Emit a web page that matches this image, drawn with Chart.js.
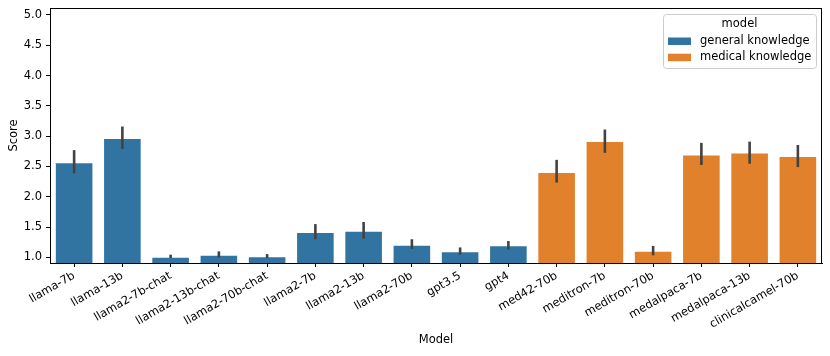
<!DOCTYPE html>
<html><head><meta charset="utf-8">
<script src="https://cdn.jsdelivr.net/npm/chart.js@4.4.1/dist/chart.umd.min.js"></script>
<style>html,body{margin:0;padding:0;background:#fff}#wrap{width:830px;height:356px;position:relative}</style>
</head><body><div id="wrap"><canvas id="c" width="830" height="356"></canvas></div>
<script>
const categories = ['llama-7b','llama-13b','llama2-7b-chat','llama2-13b-chat','llama2-70b-chat','llama2-7b','llama2-13b','llama2-70b','gpt3.5','gpt4','med42-70b','meditron-7b','meditron-70b','medalpaca-7b','medalpaca-13b','clinicalcamel-70b'];
const generalScores = [2.57, 2.97, 1.01, 1.045, 1.02, 1.42, 1.44, 1.21, 1.10, 1.20, null, null, null, null, null, null];
const medicalScores = [null, null, null, null, null, null, null, null, null, null, 2.41, 2.92, 1.11, 2.70, 2.73, 2.675];
const errLow  = [2.385, 2.79, 0.99, 1.0, 0.99, 1.30, 1.31, 1.14, 1.045, 1.13, 2.235, 2.725, 1.035, 2.525, 2.545, 2.49];
const errHigh = [2.77, 3.16, 1.045, 1.10, 1.055, 1.55, 1.585, 1.30, 1.165, 1.27, 2.61, 3.11, 1.19, 2.89, 2.91, 2.855];
const yTicks = [1.0, 1.5, 2.0, 2.5, 3.0, 3.5, 4.0, 4.5, 5.0];
const seriesNames = ['general knowledge', 'medical knowledge'];
const legendTitle = 'model';
const xTitle = 'Model';
const yTitle = 'Score';

const FONT = 'DejaVu Sans';
const FS = 11.5;
const colors = ['#3274a1', '#e1812c'];
const edgeColors = ['rgba(255,255,255,0.35)', 'rgba(255,255,255,0.35)'];

const errorBars = {
  id: 'errorBars',
  afterDatasetsDraw(chart) {
    const {ctx, scales: {x, y}} = chart;
    ctx.save();
    ctx.strokeStyle = '#424242';
    ctx.lineWidth = 2.6;
    ctx.lineCap = 'butt';
    categories.forEach((c, i) => {
      const px = x.getPixelForValue(i);
      ctx.beginPath();
      ctx.moveTo(px, y.getPixelForValue(errLow[i]));
      ctx.lineTo(px, y.getPixelForValue(errHigh[i]));
      ctx.stroke();
    });
    ctx.restore();
  }
};

const frame = {
  id: 'frame',
  afterDraw(chart) {
    const {ctx, chartArea: a} = chart;
    ctx.save();
    ctx.strokeStyle = '#000';
    ctx.lineWidth = 1;
    ctx.strokeRect(Math.round(a.left) + 0.5, Math.round(a.top) + 0.5, Math.round(a.right - a.left) - 1, Math.round(a.bottom - a.top));
    ctx.restore();
  }
};

const boxLegend = {
  id: 'boxLegend',
  afterDraw(chart) {
    const {ctx, chartArea: a} = chart;
    const w = 153, h = 54;
    const x0 = a.right - 6 - w, y0 = a.top + 6;
    ctx.save();
    ctx.beginPath();
    ctx.roundRect(x0 + 0.5, y0 + 0.5, w, h, 3);
    ctx.fillStyle = 'rgba(255,255,255,0.8)';
    ctx.fill();
    ctx.strokeStyle = '#cccccc';
    ctx.lineWidth = 1;
    ctx.stroke();
    ctx.font = FS + 'px "' + FONT + '"';
    ctx.fillStyle = '#000';
    ctx.textBaseline = 'middle';
    ctx.textAlign = 'center';
    ctx.fillText(legendTitle, x0 + w / 2, y0 + 10);
    ctx.textAlign = 'left';
    seriesNames.forEach((name, i) => {
      const cy = y0 + 27 + i * 16.2;
      ctx.fillStyle = colors[i];
      ctx.fillRect(x0 + 5, cy - 3.5, 23, 7.5);
      ctx.fillStyle = '#000';
      ctx.fillText(name, x0 + 37, cy);
    });
    ctx.restore();
  }
};

new Chart(document.getElementById('c'), {
  type: 'bar',
  data: {
    labels: categories,
    datasets: [
      { label: seriesNames[0], data: generalScores, backgroundColor: colors[0], borderColor: edgeColors[0], borderWidth: 1, grouped: false, categoryPercentage: 0.8, barPercentage: 1.0 },
      { label: seriesNames[1], data: medicalScores, backgroundColor: colors[1], borderColor: edgeColors[1], borderWidth: 1, grouped: false, categoryPercentage: 0.8, barPercentage: 1.0 }
    ]
  },
  options: {
    responsive: false,
    devicePixelRatio: 1,
    animation: false,
    layout: { padding: { top: 8, right: 8, left: 0, bottom: 0 } },
    plugins: { legend: { display: false }, tooltip: { enabled: false } },
    scales: {
      x: {
        offset: true,
        grid: { display: true, drawOnChartArea: false, drawTicks: true, tickLength: 4, color: '#000', offset: false },
        border: { display: true, color: '#000', width: 1 },
        ticks: { minRotation: 30, maxRotation: 30, autoSkip: false, color: '#000', font: { family: FONT, size: FS }, padding: 2 },
        title: { display: true, text: xTitle, color: '#000', font: { family: FONT, size: FS }, padding: { top: 4, bottom: 9 } },
        afterFit(s) { s.height = 93; s.paddingLeft = 0; s.paddingRight = 0; }
      },
      y: {
        min: 0.908, max: 5.115,
        afterBuildTicks(s) { s.ticks = yTicks.map(v => ({ value: v })); },
        grid: { display: true, drawOnChartArea: false, drawTicks: true, tickLength: 4, color: '#000' },
        border: { display: true, color: '#000', width: 1 },
        ticks: { color: '#000', font: { family: FONT, size: FS }, padding: 4, callback: v => Number(v).toFixed(1) },
        title: { display: true, text: yTitle, color: '#000', font: { family: FONT, size: FS }, padding: { top: 7, bottom: 0 } },
        afterFit(s) { s.width = 50; s.paddingTop = 0; s.paddingBottom = 0; }
      }
    }
  },
  plugins: [errorBars, frame, boxLegend]
});
</script></body></html>
